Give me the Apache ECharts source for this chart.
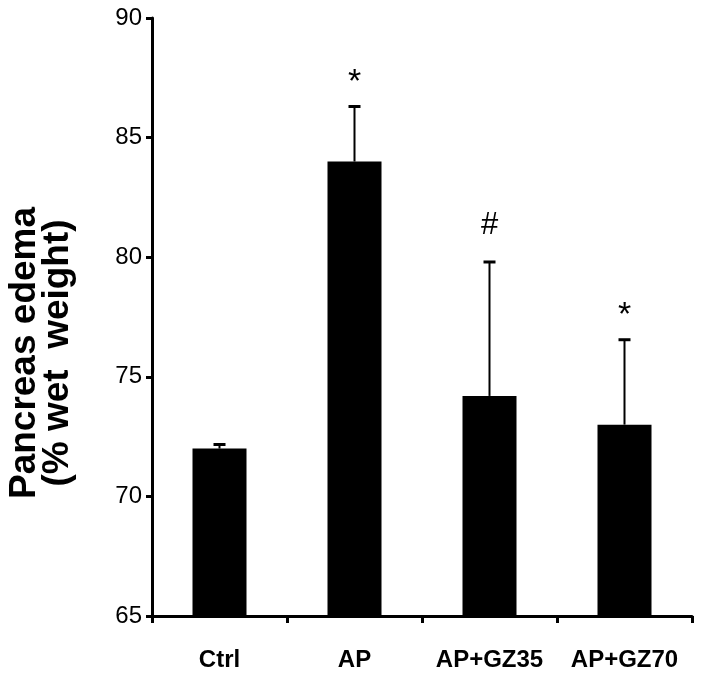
<!DOCTYPE html>
<html>
<head>
<meta charset="utf-8">
<script src="https://cdn.jsdelivr.net/npm/echarts@6/dist/echarts.min.js"></script>
<style>html,body{margin:0;padding:0;background:#fff}#c{width:702px;height:684px}</style>
</head>
<body>
<div id="c"></div>
<script>
var categories = ['Ctrl', 'AP', 'AP+GZ35', 'AP+GZ70'];
var means = [72.0, 84.0, 74.2, 73.0];
var errors = [0.17, 2.3, 5.6, 3.55];
var marks = ['', '*', '#', '*'];
var yTicks = [65, 70, 75, 80, 85, 90];
var yTitle = ['Pancreas edema', '(% wet  weight)'];

var chart = echarts.init(document.getElementById('c'));
var sans = "'Liberation Sans', Arial, sans-serif";

chart.setOption({
  animation: false,
  backgroundColor: '#fff',
  grid: {left: 152, right: 10, top: 18, bottom: 68, containLabel: false},
  xAxis: {
    type: 'category',
    data: categories,
    axisLine: {lineStyle: {color: '#000', width: 3}},
    axisTick: {show: true, alignWithLabel: false, length: 7, inside: false, lineStyle: {color: '#000', width: 3}},
    axisLabel: {color: '#000', fontFamily: sans, fontWeight: 'bold', fontSize: 24, margin: 32, interval: 0}
  },
  yAxis: {
    type: 'value',
    min: yTicks[0], max: yTicks[yTicks.length - 1], interval: 5,
    splitLine: {show: false},
    axisLine: {show: true, lineStyle: {color: '#000', width: 3}},
    axisTick: {show: true, length: 6, lineStyle: {color: '#000', width: 3}},
    axisLabel: {color: '#000', fontFamily: sans, fontSize: 24, margin: 10}
  },
  graphic: [{
    type: 'text', x: 41, y: 353, rotation: Math.PI / 2,
    style: {text: yTitle.join('\n'), font: "bold 37px 'Liberation Sans', Arial, sans-serif", fill: '#000', align: 'center', verticalAlign: 'middle', lineHeight: 33}
  }],
  series: [{
    type: 'bar',
    data: means,
    barWidth: 54,
    itemStyle: {color: '#000'}
  }, {
    type: 'custom',
    data: means.map(function (m, i) { return [i, m, errors[i]]; }),
    renderItem: function (params, api) {
      var x = api.coord([api.value(0), 0])[0];
      var y0 = api.coord([api.value(0), api.value(1)])[1];
      var y1 = api.coord([api.value(0), api.value(1) + api.value(2)])[1];
      var mk = marks[params.dataIndex];
      var kids = [
        {type: 'line', shape: {x1: x, y1: y0, x2: x, y2: y1}, style: {stroke: '#000', lineWidth: 2}},
        {type: 'line', shape: {x1: x - 6, y1: y1, x2: x + 6, y2: y1}, style: {stroke: '#000', lineWidth: 3}}
      ];
      if (mk === '*') {
        kids.push({type: 'text', x: x, y: y1 - 24, style: {text: mk, font: "34px 'Liberation Sans', Arial, sans-serif", fill: '#000', align: 'center', verticalAlign: 'middle'}});
      } else if (mk) {
        kids.push({type: 'text', x: x, y: y1 - 37, style: {text: mk, font: "31px 'Liberation Sans', Arial, sans-serif", fill: '#000', align: 'center', verticalAlign: 'middle'}});
      }
      return {type: 'group', children: kids};
    },
    z: 5
  }]
});
</script>
</body>
</html>
